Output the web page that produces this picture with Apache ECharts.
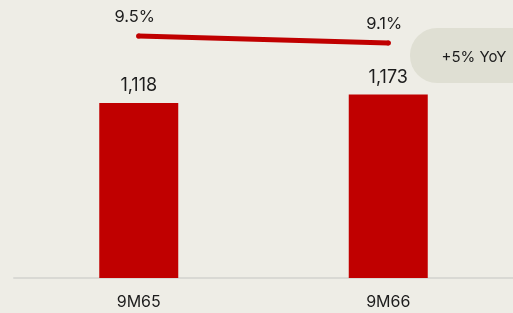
<!DOCTYPE html>
<html>
<head>
<meta charset="utf-8">
<script src="https://cdn.jsdelivr.net/npm/echarts@6/dist/echarts.min.js"></script>
<style>
  html, body { margin: 0; padding: 0; background: #eeede6; }
  #chart { width: 513px; height: 313px; }
</style>
</head>
<body>
<div id="chart"></div>
<script>
  // 数据
  const categories = ['9M65', '9M66'];
  const revenue = [1118, 1173];
  const margin = [9.5, 9.1];
  const yoyText = '+5% YoY';

  const chart = echarts.init(document.getElementById('chart'));
  const red = '#c00000';
  const font = 'Inter, "Noto Sans", sans-serif';

  const option = {
    backgroundColor: '#eeede6',
    animation: false,
    grid: { left: 14, width: 504, top: 0, bottom: 35 },
    xAxis: {
      type: 'category',
      data: categories,
      axisLine: { lineStyle: { color: '#d9d9d4', width: 2 } },
      axisTick: { show: false },
      axisLabel: { color: '#1c1c1c', fontSize: 16, fontFamily: font, margin: 16 }
    },
    yAxis: [
      { type: 'value', min: 0, max: 1776, show: false },
      { type: 'value', min: -4.33, max: 11.56, show: false }
    ],
    series: [
      {
        type: 'bar',
        data: revenue,
        barWidth: 79,
        itemStyle: { color: red },
        label: {
          show: true,
          position: 'top',
          distance: 8,
          color: '#1c1c1c',
          fontSize: 18,
          fontFamily: font,
          formatter: p => p.value.toLocaleString('en-US')
        }
      },
      {
        type: 'line',
        yAxisIndex: 1,
        data: margin,
        symbol: 'circle',
        symbolSize: 5,
        itemStyle: { color: red },
        lineStyle: { color: red, width: 5, cap: 'round' },
        label: {
          show: true,
          position: 'top',
          distance: 8,
          offset: [-4, 0],
          color: '#1c1c1c',
          fontSize: 16.5,
          fontFamily: font,
          formatter: p => p.value.toFixed(1) + '%'
        }
      }
    ],
    graphic: [
      {
        type: 'rect',
        shape: { x: 410, y: 28, width: 140, height: 55, r: 27 },
        style: { fill: '#dfdfd3' }
      },
      {
        type: 'text',
        x: 474,
        y: 57,
        style: {
          text: yoyText,
          fill: '#1c1c1c',
          font: '15px ' + font,
          align: 'center',
          verticalAlign: 'middle'
        }
      }
    ]
  };
  chart.setOption(option);
</script>
</body>
</html>
